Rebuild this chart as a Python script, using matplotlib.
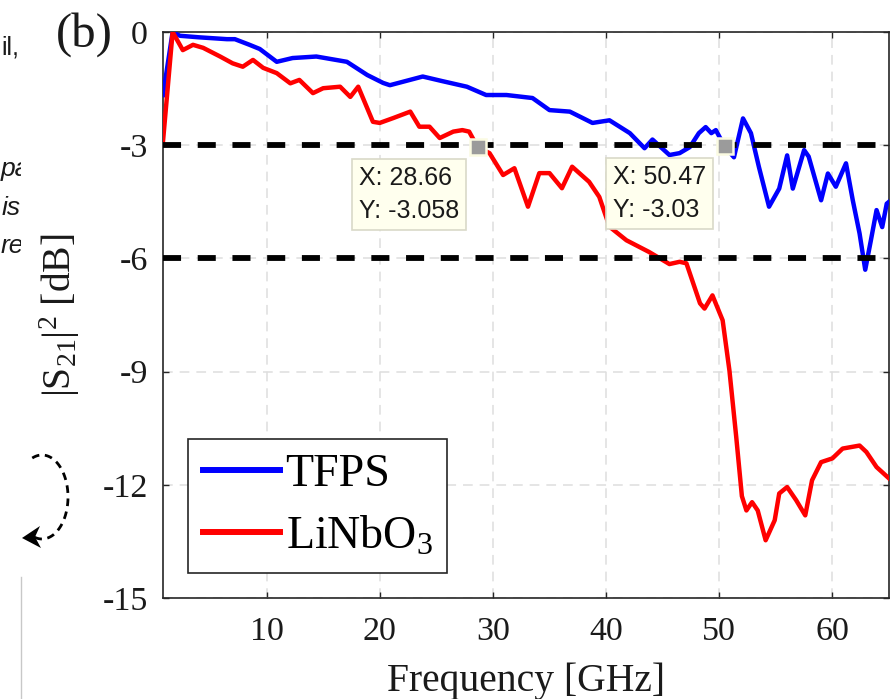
import numpy as np
import matplotlib
matplotlib.use("Agg")
import matplotlib.pyplot as plt
from matplotlib.lines import Line2D

plt.rcParams['font.family'] = ['Liberation Serif', 'DejaVu Serif']
plt.rcParams['mathtext.fontset'] = 'custom'
plt.rcParams['mathtext.rm'] = 'Liberation Serif'
plt.rcParams['mathtext.it'] = 'Liberation Serif:italic'
plt.rcParams['mathtext.bf'] = 'Liberation Serif:bold'
plt.rcParams['axes.unicode_minus'] = False
plt.rcParams['lines.scale_dashes'] = False

# ---------------- data ----------------
tfps_f = [0.85, 1.7, 2.35, 4.0, 6.5, 7.2, 8.5, 9.4, 10.9, 12.3, 14.4, 17.1, 18.9,
          20.3, 20.9, 23.8, 25.5, 27.7, 29.4, 31.2, 33.5, 35.0, 36.8, 38.8, 40.3,
          42.1, 43.4, 44.1, 45.6, 46.5, 47.4, 48.2, 48.8, 49.3, 49.7, 50.47, 51.3,
          52.1, 52.8, 53.5, 54.4, 55.3, 56.0, 56.5, 57.5, 57.9, 59.0, 59.6, 60.3,
          61.2, 61.8, 62.4, 62.9, 63.4, 63.9, 64.4, 64.8, 65.0]
tfps_db = [-1.67, 0.0, -0.10, -0.14, -0.19, -0.19, -0.34, -0.45, -0.79, -0.69, -0.65,
           -0.79, -1.14, -1.35, -1.41, -1.18, -1.30, -1.45, -1.67, -1.67, -1.75, -2.07,
           -2.11, -2.41, -2.34, -2.68, -3.08, -2.85, -3.26, -3.21, -3.05, -2.68, -2.52,
           -2.68, -2.60, -3.03, -3.32, -2.29, -2.68, -3.57, -4.63, -4.15, -3.27, -4.15,
           -3.13, -3.30, -4.46, -3.75, -4.10, -3.48, -4.46, -5.34, -6.30, -5.52, -4.72,
           -5.17, -4.55, -4.50]

lnb_f = [0.85, 1.7, 2.6, 3.5, 4.4, 5.9, 7.0, 7.9, 8.8, 9.7, 10.9, 12.1, 12.9, 14.1,
         15.0, 16.5, 17.4, 18.1, 19.4, 20.0, 21.2, 22.7, 23.5, 24.4, 25.3, 26.5, 27.3,
         27.9, 28.66, 29.7, 30.9, 31.9, 33.1, 34.1, 35.0, 36.1, 37.0, 38.5, 39.4, 40.3,
         41.8, 43.8, 45.6, 46.5, 47.1, 48.3, 48.7, 49.4, 50.3, 50.9, 51.5, 52.0, 52.4,
         52.9, 53.4, 54.1, 54.9, 55.3, 56.0, 56.8, 57.6, 58.2, 59.0, 60.0, 60.9, 62.4,
         63.0, 63.9, 65.0]
lnb_db = [-2.90, 0.0, -0.48, -0.34, -0.42, -0.65, -0.83, -0.92, -0.74, -0.95, -1.09,
          -1.36, -1.27, -1.62, -1.49, -1.45, -1.72, -1.45, -2.38, -2.41, -2.28, -2.11,
          -2.51, -2.51, -2.81, -2.64, -2.60, -2.64, -3.058, -3.21, -3.79, -3.61, -4.63,
          -3.74, -3.74, -4.14, -3.57, -3.97, -4.37, -5.16, -5.52, -5.83, -6.15, -6.09,
          -6.13, -7.19, -7.33, -6.98, -7.64, -8.97, -10.73, -12.30, -12.68, -12.46,
          -12.68, -13.47, -12.94, -12.23, -12.06, -12.41, -12.81, -11.88, -11.40,
          -11.30, -11.04, -10.96, -11.13, -11.53, -11.83]

ref_levels = [-3, -6]
tip_x = [28.66, 50.47]
tip_y = [-3.058, -3.03]
tip_labels = ["X: 28.66\nY: -3.058", "X: 50.47\nY: -3.03"]

series_names = ["TFPS", "LiNbO$_3$"]
xticks = [10, 20, 30, 40, 50, 60]
yticks = [-15, -12, -9, -6, -3, 0]
ytick_labels = ["-15", "-12", "-9", "-6", "-3", "0"]

# ---------------- figure ----------------
W, H = 895, 699
fig = plt.figure(figsize=(W / 100, H / 100), dpi=100)
ax = fig.add_axes([163 / W, 1 - 598 / H, (889 - 163) / W, (598 - 32) / H])

ax.plot(tfps_f, tfps_db, color='#0000ff', lw=3.2, zorder=3, solid_joinstyle='round')
ax.plot(lnb_f, lnb_db, color='#ff0000', lw=3.2, zorder=3.1, solid_joinstyle='round')

for lv in ref_levels:
    ax.axhline(lv, color='black', lw=4.2, linestyle=(0, (13, 12)), zorder=4)

ax.plot(tip_x, tip_y, 's', ms=11.5, mfc='#9b9b9b', mec='#fbfbe2', mew=1.8, zorder=6)
for x, y, t in zip(tip_x, tip_y, tip_labels):
    ax.annotate(t, xy=(x, y), xytext=(-13.5, -13.5), textcoords='offset points',
                ha='right', va='top', multialignment='left', fontsize=18,
                family='Liberation Sans', color='#1a1a1a', linespacing=1.45, zorder=7,
                bbox=dict(boxstyle='square,pad=0.28', fc='#ffffee', ec='#d9d9c8', lw=1.2))

ax.set_xlim(0.85, 65)
ax.set_ylim(-15, 0)
ax.set_xticks(xticks)
ax.set_xticklabels([str(v) for v in xticks])
ax.set_yticks(yticks)
ax.set_yticklabels(ytick_labels)

ax.grid(True, color='#dedede', lw=1.1, linestyle=(0, (7, 5)), zorder=0)
ax.set_axisbelow(True)
for s in ax.spines.values():
    s.set_color('#262626')
    s.set_linewidth(1.2)
ax.tick_params(direction='in', length=4.5, width=1.0, color='#262626',
               top=True, right=True, labelsize=24.5, labelcolor='#1a1a1a')
ax.tick_params(axis='y', pad=11)
ax.tick_params(axis='x', pad=13)

ax.set_xlabel('Frequency [GHz]', fontsize=28.5, color='#1a1a1a')
ax.xaxis.set_label_coords(0.5, -(663 - 598) / 566)
ax.set_ylabel(r'$|\mathrm{S}_{21}|^2$ [dB]', fontsize=28.5, color='#1a1a1a')
ax.yaxis.set_label_coords(-(163 - 82) / 726, 0.5)

handles = [Line2D([], [], color='#0000ff', lw=4.3), Line2D([], [], color='#ff0000', lw=4.3)]
leg = ax.legend(handles, series_names, loc='lower left',
                bbox_to_anchor=((188 - 163) / 726, (598 - 573) / 566),
                borderaxespad=0, fontsize=33, handlelength=1.68, handletextpad=0.13,
                borderpad=0.32, labelspacing=0.42, fancybox=False, framealpha=1,
                edgecolor='#262626')
leg.get_frame().set_linewidth(1.2)
leg.set_zorder(8)

fig.text(84 / W, 1 - 35 / H, '(b)', fontsize=35, ha='center', va='center', color='#1a1a1a')

# ---------------- left margin decorations (cropped neighbour panel) ----------------
lax = fig.add_axes([0, 0, 21 / W, 1])
lax.set_xlim(0, 21)
lax.set_ylim(H, 0)
lax.axis('off')
side = [("il,", 19, 55, 'right', 'normal', 18), ("pa", 0.5, 176, 'left', 'italic', 19),
        ("is", 2, 215, 'left', 'italic', 19), ("re", 0.5, 253, 'left', 'italic', 19)]
for t, x, y, ha, st, fs in side:
    lax.text(x, y, t, fontsize=fs, family='Liberation Sans', style=st, ha=ha,
             va='baseline', color='#1a1a1a', clip_on=True)

oax = fig.add_axes([0, 0, 1, 1], zorder=-1)
oax.set_xlim(0, W)
oax.set_ylim(H, 0)
oax.axis('off')
th = np.linspace(np.deg2rad(112), np.deg2rad(-118), 80)
oax.plot(42 + 26 * np.cos(th), 497 - 42 * np.sin(th), color='black', lw=2.0,
         linestyle=(0, (5.5, 4)))
oax.fill([22, 40, 35, 41], [538, 526, 537, 548], color='black', lw=0)
oax.plot([21.5, 21.5], [577, H], color='#c8c8c8', lw=1)

fig.savefig('out.png', dpi=100)
